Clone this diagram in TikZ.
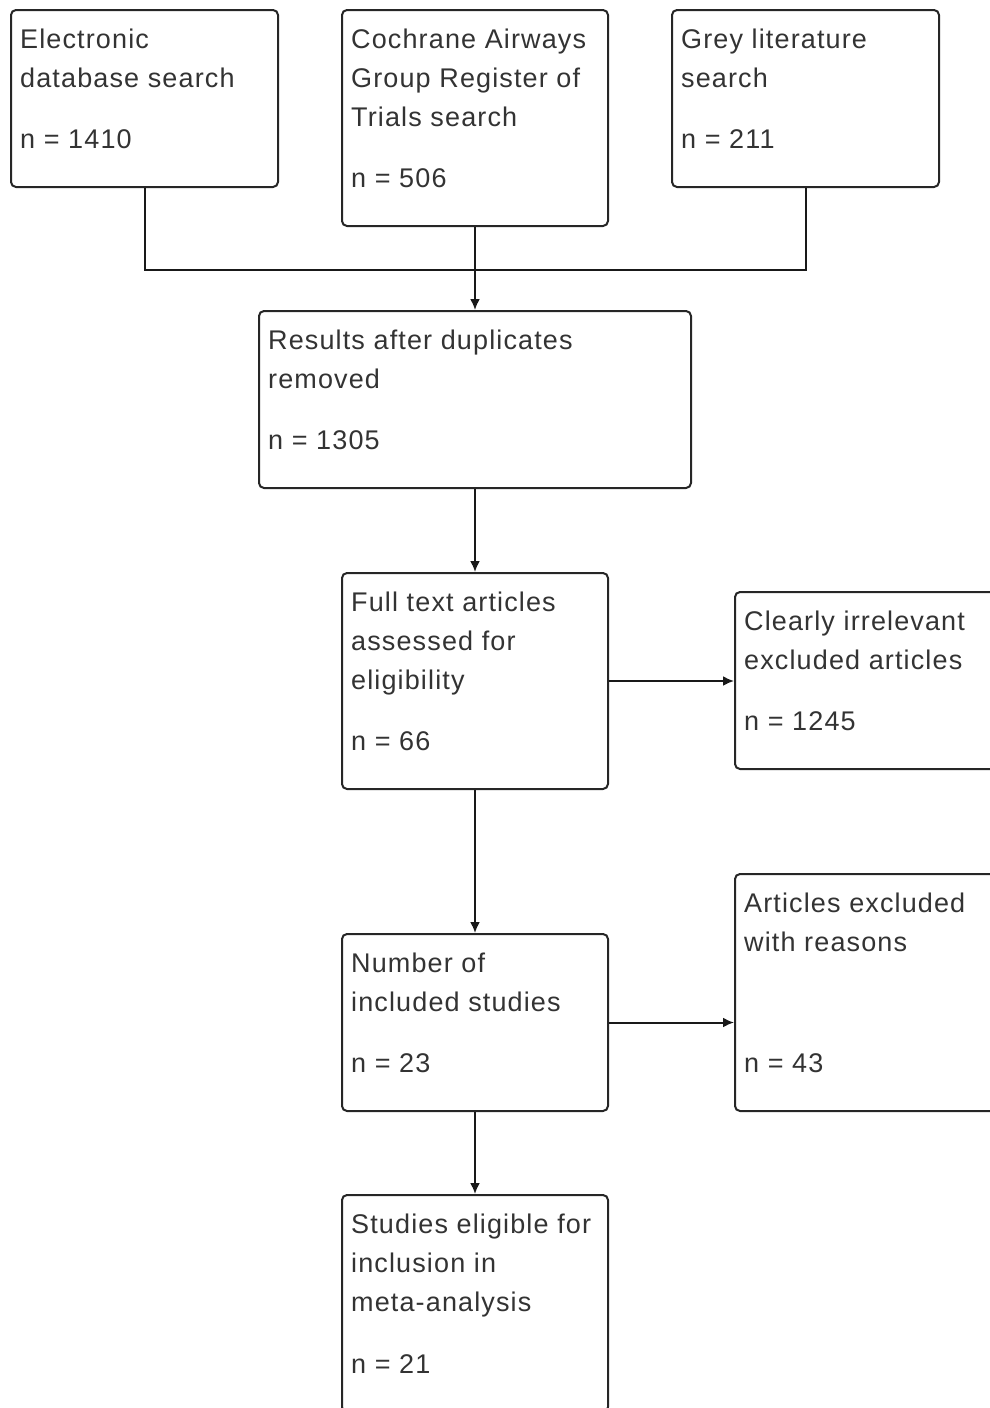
\documentclass[tikz,border=0pt]{standalone}
\usepackage{fontspec}
\setmainfont{Liberation Sans}[LetterSpace=4.2]
\usetikzlibrary{arrows.meta,calc}
\newcommand{\fl}{\rule{0pt}{27pt}}
\tikzset{
  box/.style={draw=black!85, line width=2pt, rounded corners=5pt, anchor=north west, inner sep=0pt},
  txt/.style={inner sep=0pt, align=left, text=black!80, font=\fontsize{27pt}{39pt}\selectfont},
  ttl/.style={txt, anchor=north west},
  num/.style={txt, anchor=base west},
  link/.style={draw=black!90, line width=2pt},
  arr/.style={link, -{Latex[length=11pt,width=10pt]}}
}
\begin{document}
\begin{tikzpicture}[x=1pt,y=-1pt]
\useasboundingbox (0,0) rectangle (990,1408);
\clip (0,0) rectangle (990,1408);
% boxes
\node[box, minimum width=267pt, minimum height=177pt] (A) at (10,9) {};
\node[box, minimum width=266pt, minimum height=216pt] (B) at (341,9) {};
\node[box, minimum width=267pt, minimum height=177pt] (C) at (671,9) {};
\node[box, minimum width=432pt, minimum height=177pt] (D) at (258,310) {};
\node[box, minimum width=266pt, minimum height=216pt] (E) at (341,572) {};
\node[box, minimum width=300pt, minimum height=177pt] (F) at (734,591) {};
\node[box, minimum width=266pt, minimum height=177pt] (G) at (341,933) {};
\node[box, minimum width=300pt, minimum height=237pt] (H) at (734,873) {};
\node[box, minimum width=266pt, minimum height=217pt] (I) at (341,1194) {};
% texts
\node[ttl] (tA) at ($(A.north west)+(10,12)$) {\fl Electronic\\database search};
\node[num] (nA) at ($(A.south west)+(10,-40)$) {n = 1410};
\node[ttl] (tB) at ($(B.north west)+(10,12)$) {\fl Cochrane Airways\\Group Register of\\Trials search};
\node[num] (nB) at ($(B.south west)+(10,-40)$) {n = 506};
\node[ttl] (tC) at ($(C.north west)+(10,12)$) {\fl Grey literature\\search};
\node[num] (nC) at ($(C.south west)+(10,-40)$) {n = 211};
\node[ttl] (tD) at ($(D.north west)+(10,12)$) {\fl Results after duplicates\\removed};
\node[num] (nD) at ($(D.south west)+(10,-40)$) {n = 1305};
\node[ttl] (tE) at ($(E.north west)+(10,12)$) {\fl Full text articles\\assessed for\\eligibility};
\node[num] (nE) at ($(E.south west)+(10,-40)$) {n = 66};
\node[ttl] (tF) at ($(F.north west)+(10,12)$) {\fl Clearly irrelevant\\excluded articles};
\node[num] (nF) at ($(F.south west)+(10,-40)$) {n = 1245};
\node[ttl] (tG) at ($(G.north west)+(10,12)$) {\fl Number of\\included studies};
\node[num] (nG) at ($(G.south west)+(10,-40)$) {n = 23};
\node[ttl] (tH) at ($(H.north west)+(10,12)$) {\fl Articles excluded\\with reasons};
\node[num] (nH) at ($(H.south west)+(10,-40)$) {n = 43};
\node[ttl] (tI) at ($(I.north west)+(10,12)$) {\fl Studies eligible for\\inclusion in\\meta-analysis};
\node[num] (nI) at ($(I.south west)+(10,-40)$) {n = 21};
% connectors
\coordinate (j) at ($(A.south)+(0,82)$);
\draw[link] (A.south) -- (j) -| (C.south);
\draw[arr] (B.south) -- (D.north);
\draw[arr] (D.south -| E.north) -- (E.north);
\draw[arr] (E.east) -- (E.east -| F.west);
\draw[arr] (E.south) -- (G.north);
\draw[arr] (G.east) -- (G.east -| H.west);
\draw[arr] (G.south) -- (I.north);
\end{tikzpicture}
\end{document}
